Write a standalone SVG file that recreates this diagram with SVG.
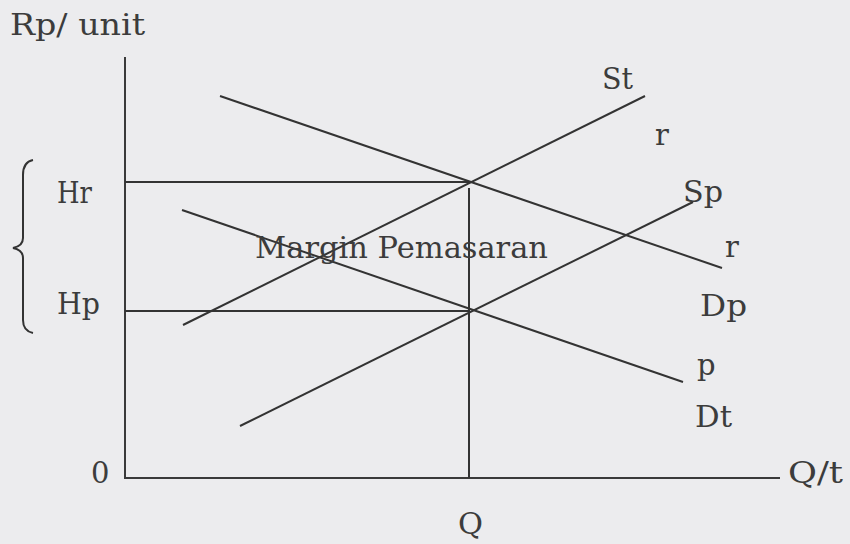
<svg xmlns="http://www.w3.org/2000/svg" width="850" height="544" viewBox="0 0 850 544">
<style>
.ln{stroke:#333;stroke-width:2;fill:none;stroke-linecap:butt}
.ax{stroke:#3a3a3a;stroke-width:2;fill:none}
.t{font-family:"DejaVu Serif","Liberation Serif",serif;font-size:29px;fill:#3c3c3c}
</style>
<rect width="850" height="544" fill="#ececee"/>
<g id="axes">
<line class="ax" x1="125" y1="57" x2="125" y2="478"/>
<line class="ax" x1="124" y1="478" x2="780" y2="478"/>
</g>
<g id="connectors">
<line class="ln" x1="125" y1="182" x2="469" y2="182"/>
<line class="ln" x1="125" y1="311" x2="469" y2="311"/>
<line class="ln" x1="469" y1="188" x2="469" y2="478"/>
<line id="St" class="ln" x1="183" y1="325" x2="645" y2="96"/>
<line id="Dp" class="ln" x1="220" y1="96" x2="722" y2="268"/>
<line id="Sp" class="ln" x1="240" y1="426" x2="693" y2="202"/>
<line id="Dt" class="ln" x1="182" y1="210" x2="683" y2="382"/>
<path class="ln" d="M33,160 Q23,162 23,175 L23,238 Q23,246 13,248 Q23,250 23,258 L23,320 Q23,331 33,333" stroke-width="1.6"/>
</g>
<g id="labels">
<text class="t" x="10" y="35" textLength="135" lengthAdjust="spacingAndGlyphs">Rp/ unit</text>
<text class="t" x="602" y="89" textLength="31" lengthAdjust="spacingAndGlyphs">St</text>
<text class="t" x="655" y="145">r</text>
<text class="t" x="683" y="202" textLength="40" lengthAdjust="spacingAndGlyphs">Sp</text>
<text class="t" x="725" y="257">r</text>
<text class="t" x="700" y="316" textLength="47" lengthAdjust="spacingAndGlyphs">Dp</text>
<text class="t" x="697" y="375">p</text>
<text class="t" x="695" y="427" textLength="37" lengthAdjust="spacingAndGlyphs">Dt</text>
<text class="t" x="788" y="483" textLength="55" lengthAdjust="spacingAndGlyphs">Q/t</text>
<text class="t" x="458" y="534" textLength="25" lengthAdjust="spacingAndGlyphs">Q</text>
<text class="t" x="91" y="483">0</text>
<text class="t" x="57" y="203" textLength="35" lengthAdjust="spacingAndGlyphs">Hr</text>
<text class="t" x="57" y="314" textLength="43" lengthAdjust="spacingAndGlyphs">Hp</text>
<text class="t" x="255" y="258" textLength="293" lengthAdjust="spacingAndGlyphs">Margin Pemasaran</text>
</g>
</svg>
